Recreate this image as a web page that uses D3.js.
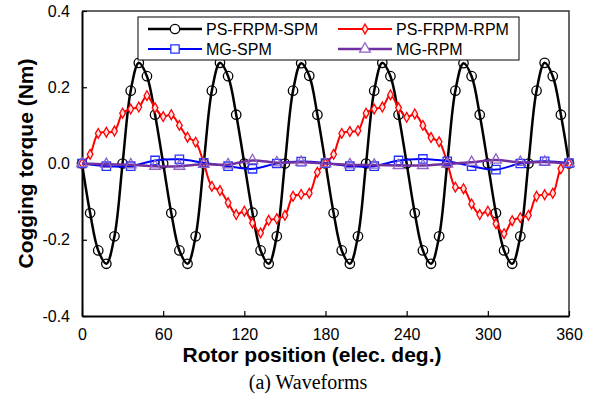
<!DOCTYPE html>
<html>
<head>
<meta charset="utf-8">
<script src="https://cdn.jsdelivr.net/npm/d3@7"></script>
<style>
  body { margin: 0; background: #fff; }
  svg { display: block; font-family: Arial, "Liberation Sans", sans-serif; }
</style>
</head>
<body>
<svg id="chart" width="594" height="401"></svg>
<script>
// rotor positions (elec. deg.)
const posFine = d3.range(0, 361, 6);     // 6 deg step, PS-FRPM curves
const posCoarse = d3.range(0, 361, 18);  // 18 deg step, MG curves

// cogging torque (Nm)
const psFrpmSpm = [
  0, -0.130, -0.228, -0.263, -0.191, 0, 0.191, 0.264, 0.229, 0.128,
  0, -0.130, -0.228, -0.263, -0.191, 0, 0.191, 0.264, 0.229, 0.128,
  0, -0.129, -0.228, -0.263, -0.191, 0, 0.191, 0.263, 0.230, 0.128,
  0, -0.130, -0.228, -0.263, -0.191, 0, 0.191, 0.264, 0.229, 0.128,
  0, -0.130, -0.228, -0.263, -0.191, 0, 0.191, 0.263, 0.229, 0.128,
  0, -0.130, -0.228, -0.263, -0.191, 0, 0.191, 0.264, 0.229, 0.128,
  0
];
const psFrpmRpm = [
  0, 0.024, 0.079, 0.082, 0.085, 0.132, 0.143, 0.148, 0.178, 0.146,
  0.123, 0.128, 0.100, 0.069, 0.056, 0.001, -0.060, -0.071, -0.103, -0.134,
  -0.125, -0.156, -0.182, -0.149, -0.145, -0.136, -0.086, -0.081, -0.078, -0.023,
  0, 0.024, 0.079, 0.084, 0.086, 0.132, 0.143, 0.148, 0.180, 0.146,
  0.121, 0.130, 0.100, 0.068, 0.057, 0.003, -0.062, -0.066, -0.106, -0.134,
  -0.125, -0.158, -0.184, -0.150, -0.142, -0.136, -0.086, -0.082, -0.078, -0.014,
  0
];
const mgSpm = [
  0, -0.007, -0.007, 0.008, 0.011, 0.002, -0.007, -0.014, 0, 0.005,
  0.001, -0.007, -0.007, 0.008, 0.012, 0.006, -0.007, -0.016, 0, 0.006,
  0.001
];
const mgRpm = [
  0, -0.002, -0.003, -0.007, -0.007, -0.002, -0.003, 0.008, 0.002, 0.003,
  0, -0.003, -0.004, -0.005, -0.005, -0.001, 0.003, 0.009, 0.003, 0.004,
  0
];

const xTicks = [0, 60, 120, 180, 240, 300, 360];
const yTicks = [-0.4, -0.2, 0, 0.2, 0.4];

const series = [
  { name: "PS-FRPM-SPM", x: posFine, y: psFrpmSpm, color: "#000", marker: "circle", width: 2.5, mcolor: "#000", msize: 70, mfill: "none" },
  { name: "PS-FRPM-RPM", x: posFine, y: psFrpmRpm, color: "#ff0000", marker: "diamond", width: 2, mcolor: "#ff0000", msize: 28, mfill: "#ffe0e0" },
  { name: "MG-SPM", x: posCoarse, y: mgSpm, color: "#0000ff", marker: "square", width: 2, mcolor: "#2233ff", msize: 70, mfill: "none" },
  { name: "MG-RPM", x: posCoarse, y: mgRpm, color: "#7030a0", marker: "triangle", width: 2.5, mcolor: "#8e63c8", msize: 50, mfill: "none" }
];

const svg = d3.select("#chart");
const x = d3.scaleLinear().domain([0, 360]).range([82, 569]);
const y = d3.scaleLinear().domain([-0.4, 0.4]).range([316, 11]);

const symbolOf = {
  circle: d3.symbolCircle,
  diamond: d3.symbolDiamond,
  square: d3.symbolSquare,
  triangle: d3.symbolTriangle
};

// frame top/right
svg.append("path")
  .attr("d", `M${x(0)},${y(0.4)}H${x(360)}V${y(-0.4)}`)
  .attr("fill", "none").attr("stroke", "#333").attr("stroke-width", 1.5);

// axes with inward ticks
const fmtY = d => d3.format(".1f")(d).replace("\u2212", "-");
const xAxis = svg.append("g").attr("transform", `translate(0,${y(-0.4)})`)
  .call(d3.axisBottom(x).tickValues(xTicks).tickSizeInner(-5).tickSizeOuter(0).tickPadding(13));
const yAxis = svg.append("g").attr("transform", `translate(${x(0)},0)`)
  .call(d3.axisLeft(y).tickValues(yTicks).tickSizeInner(-5).tickSizeOuter(0).tickPadding(12)
    .tickFormat(fmtY));

[xAxis, yAxis].forEach(g => {
  g.select(".domain").attr("stroke", "#000").attr("stroke-width", 2);
  g.selectAll(".tick line").attr("stroke", "#000").attr("stroke-width", 1.2);
  g.selectAll(".tick text").attr("font-size", 16).attr("fill", "#000")
    .attr("font-family", "Arial, 'Liberation Sans', sans-serif");
});

// series
const line = d3.line().curve(d3.curveCatmullRom.alpha(0.5));
series.forEach(s => {
  const pts = s.x.map((v, i) => [x(v), y(s.y[i])]);
  svg.append("path")
    .attr("d", line(pts))
    .attr("fill", "none").attr("stroke", s.color)
    .attr("stroke-width", s.width).attr("stroke-linejoin", "round");
  svg.append("g").selectAll("path")
    .data(pts).enter().append("path")
    .attr("transform", d => `translate(${d[0]},${d[1]})`)
    .attr("d", d3.symbol().type(symbolOf[s.marker]).size(s.msize))
    .attr("fill", s.mfill).attr("stroke", s.mcolor).attr("stroke-width", 1.3);
});

// legend
const legend = svg.append("g");
legend.append("rect")
  .attr("x", 138).attr("y", 17).attr("width", 381).attr("height", 43)
  .attr("fill", "#fff").attr("stroke", "#000").attr("stroke-width", 1);
const legPos = [[148, 29], [338, 29], [148, 49], [338, 49]];
series.forEach((s, i) => {
  const [lx, ly] = legPos[i];
  legend.append("line")
    .attr("x1", lx).attr("x2", lx + 54).attr("y1", ly).attr("y2", ly)
    .attr("stroke", s.color).attr("stroke-width", s.width);
  legend.append("path")
    .attr("transform", `translate(${lx + 27},${ly})`)
    .attr("d", d3.symbol().type(symbolOf[s.marker]).size(s.msize))
    .attr("fill", s.mfill === "none" ? "#fff" : s.mfill).attr("stroke", s.mcolor).attr("stroke-width", 1.3);
  legend.append("text")
    .attr("x", lx + 58).attr("y", ly + 5.8)
    .attr("font-size", 16).attr("fill", "#000")
    .text(s.name);
});

// axis titles
svg.append("text")
  .attr("x", 312).attr("y", 362)
  .attr("text-anchor", "middle").attr("font-size", 21).attr("font-weight", "bold")
  .text("Rotor position (elec. deg.)");
svg.append("text")
  .attr("transform", `translate(33,${y(0)}) rotate(-90)`)
  .attr("text-anchor", "middle").attr("font-size", 21).attr("font-weight", "bold")
  .text("Cogging torque (Nm)");

// caption
svg.append("text")
  .attr("x", 308).attr("y", 389)
  .attr("text-anchor", "middle").attr("font-size", 20)
  .attr("font-family", "'Liberation Serif', 'Times New Roman', serif")
  .text("(a) Waveforms");
</script>
</body>
</html>
